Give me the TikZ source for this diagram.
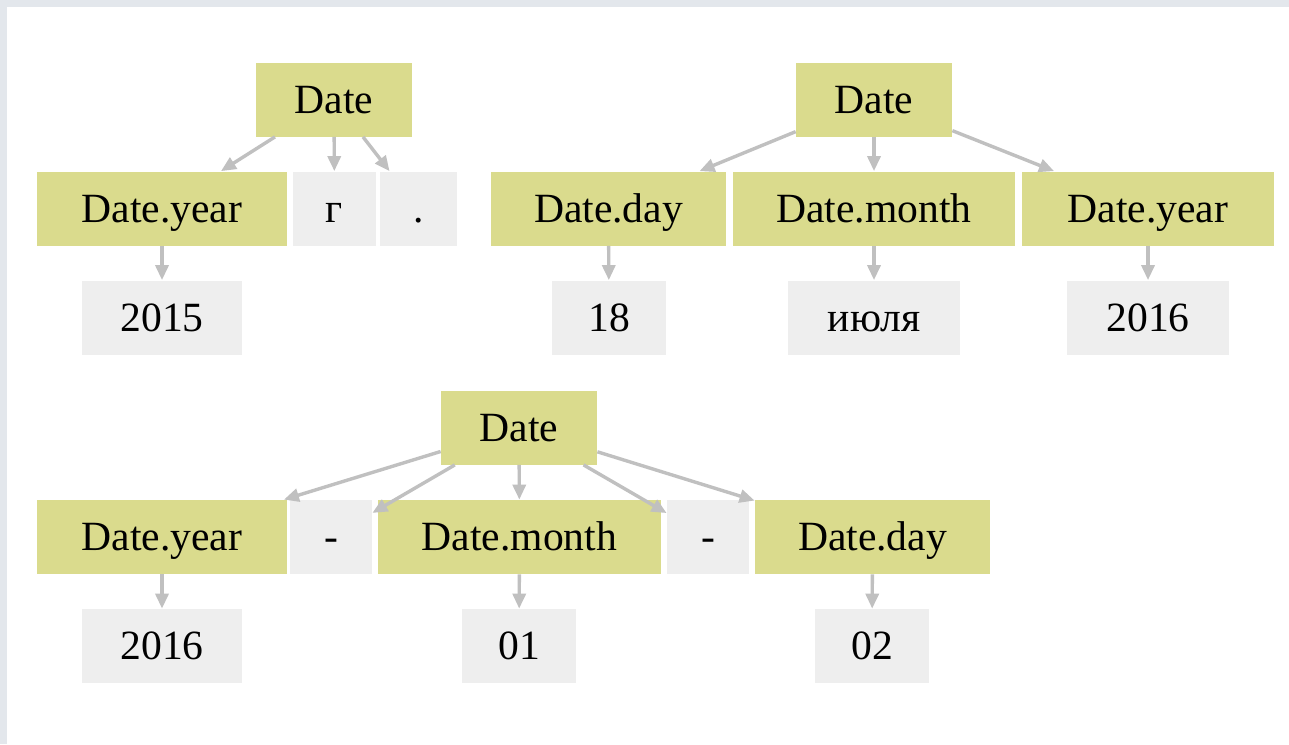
\documentclass[tikz,border=0pt]{standalone}
\usepackage{fontspec}
\setmainfont{Liberation Serif}
\usetikzlibrary{arrows.meta}
\definecolor{catfill}{RGB}{218,219,141}
\definecolor{tokfill}{RGB}{238,238,238}
\definecolor{edgegray}{RGB}{192,192,192}
\definecolor{framegray}{RGB}{227,231,236}
\begin{document}
\begin{tikzpicture}[x=0.5pt,y=-0.5pt,
  box/.style={inner sep=0pt, minimum height=37pt,
    text height=16pt, text depth=2.3pt,
    font=\fontsize{20.8}{24}\selectfont, text=black},
  cat/.style={box, fill=catfill},
  tok/.style={box, fill=tokfill},
  edge/.style={draw=edgegray, line width=1.7pt,
    -{Triangle[length=7.5pt,width=6.5pt]}}]
\useasboundingbox (0,0) rectangle (1289,744);
% page frame
\fill[white] (0,0) rectangle (1289,744);
\fill[framegray] (0,0) rectangle (1289,6.5);
\fill[framegray] (0,0) rectangle (7,744);

% "2015 г."
\node[cat, minimum width=78pt]    (a)  at (334,99.5)   {Date};
\node[cat, minimum width=125pt]   (a1) at (162,208.5)  {Date.year};
\node[tok, minimum width=41.5pt]  (a2) at (334.5,208.5) {г};
\node[tok, minimum width=38.5pt]  (a3) at (418.5,208.5) {.};
\node[tok, minimum width=80pt]    (a4) at (162,317.5)  {2015};
\draw[edge] (a) -- (a1);
\draw[edge] (a) -- (a2);
\draw[edge] (a) -- (a3);
\draw[edge] (a1) -- (a4);

% "18 июля 2016"
\node[cat, minimum width=78pt]    (b)  at (874,99.5)   {Date};
\node[cat, minimum width=117.5pt] (b1) at (608.5,208.5) {Date.day};
\node[cat, minimum width=141pt]   (b2) at (874,208.5)  {Date.month};
\node[cat, minimum width=126pt]   (b3) at (1148,208.5) {Date.year};
\node[tok, minimum width=57pt]    (b4) at (609,317.5)  {18};
\node[tok, minimum width=86pt]    (b5) at (874,317.5)  {июля};
\node[tok, minimum width=81pt]    (b6) at (1148,317.5) {2016};
\draw[edge] (b) -- (b1);
\draw[edge] (b) -- (b2);
\draw[edge] (b) -- (b3);
\draw[edge] (b1) -- (b4);
\draw[edge] (b2) -- (b5);
\draw[edge] (b3) -- (b6);

% "2016-01-02"
\node[cat, minimum width=78pt]    (c)  at (519,427.5)  {Date};
\node[cat, minimum width=125pt]   (c1) at (162,537)    {Date.year};
\node[tok, minimum width=41pt]    (c2) at (331,537)    {-};
\node[cat, minimum width=141.5pt] (c3) at (519.5,537)  {Date.month};
\node[tok, minimum width=41pt]    (c4) at (708,537)    {-};
\node[cat, minimum width=117.5pt] (c5) at (872.5,537)  {Date.day};
\node[tok, minimum width=80pt]    (c6) at (162,646)    {2016};
\node[tok, minimum width=57pt]    (c7) at (519,646)    {01};
\node[tok, minimum width=57pt]    (c8) at (872,646)    {02};
\draw[edge] (c) -- (c1);
\draw[edge] (c) -- (c2);
\draw[edge] (c) -- (c3);
\draw[edge] (c) -- (c4);
\draw[edge] (c) -- (c5);
\draw[edge] (c1) -- (c6);
\draw[edge] (c3) -- (c7);
\draw[edge] (c5) -- (c8);
\end{tikzpicture}
\end{document}
